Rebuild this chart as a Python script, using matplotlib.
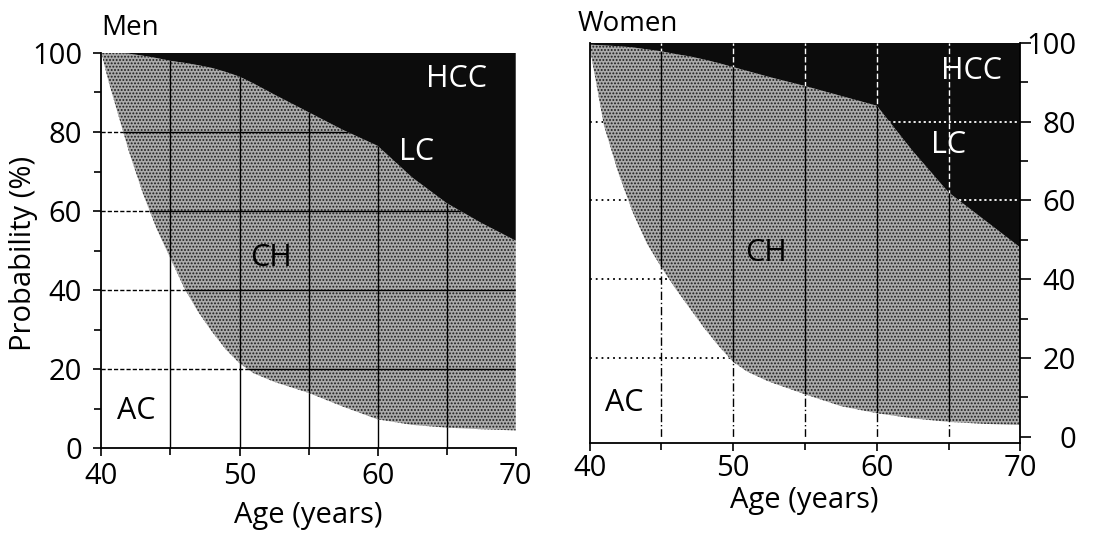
import matplotlib
matplotlib.use('Agg')
import matplotlib.pyplot as plt
from matplotlib.ticker import FixedLocator

# ---------------- data ----------------
ages = [40, 40.5, 41, 42, 43, 44, 45, 46, 47, 48, 49, 50, 51, 52.5, 55, 57.5, 60, 62.5, 65, 67.5, 70]

# upper boundary of the AC (white) area, %
men_ac = [100, 93, 87, 75, 64.5, 55.5, 48, 40.5, 34.5, 29.5, 25, 21.5, 19, 16.8, 14, 10.5, 7.3, 5.9, 5.2, 4.8, 4.5]
# upper boundary of the CH (stippled) area, %; above it LC / HCC (black)
men_ch_top = [100, 100, 100, 99.8, 99.3, 98.7, 98.0, 97.5, 96.9, 96.2, 95.2, 94.0, 92.3, 89.5, 85.0, 80.5,
              76.5, 68.5, 62.0, 57.0, 52.5]

women_ac = [99, 89, 79, 67, 57, 49, 43, 37.5, 32.5, 27.5, 23, 19, 16.5, 14, 10.8, 7.8, 6.0, 4.7, 3.8, 3.3, 3.0]
women_ch_top = [99.5, 99.4, 99.3, 99.1, 98.8, 98.3, 97.8, 97.1, 96.5, 95.7, 94.8, 93.8, 92.8, 91.3, 89.0, 86.5,
                84.0, 72.5, 62.0, 55.0, 48.0]

x_ticks = [40, 50, 60, 70]
x_minor = [45, 55, 65]
y_ticks = [0, 20, 40, 60, 80, 100]
y_minor = [10, 30, 50, 70, 90]
grid_x = [45, 50, 55, 60, 65]
grid_y = [20, 40, 60, 80]

men_labels = {'HCC': (65.7, 93.5), 'LC': (62.8, 75.0), 'CH': (52.3, 48.0), 'AC': (42.5, 9.5)}
women_labels = {'HCC': (66.6, 92.7), 'LC': (65.0, 74.0), 'CH': (52.3, 46.7), 'AC': (42.4, 8.6)}

# ---------------- style ----------------
plt.rcParams['font.family'] = ['Open Sans', 'DejaVu Sans']
plt.rcParams['hatch.linewidth'] = 0.9

fig = plt.figure(figsize=(11.02, 5.4), dpi=100)
axL = fig.add_axes([0.092, 0.170, 0.376, 0.732])
axR = fig.add_axes([0.535, 0.180, 0.391, 0.741])

GRAY_FACE = '#ababab'
GRAY_HATCH = '#1c1c1c'
DARK = '#0c0c0c'


def clipped_lines(ax, fill, vstyle, hstyle):
    path = fill.get_paths()[0]
    if vstyle is not None:
        for gx in grid_x:
            ln, = ax.plot([gx, gx], [0, 100], zorder=2, **vstyle)
            ln.set_clip_path(path, ax.transData)
    if hstyle is not None:
        for gy in grid_y:
            ln, = ax.plot([40, 70], [gy, gy], zorder=2, **hstyle)
            ln.set_clip_path(path, ax.transData)


def panel(ax, ac, ch, labels, styles):
    ax.set_xlim(40, 70)
    f_ac = ax.fill_between(ages, 0, ac, facecolor='white', lw=0, zorder=1)
    f_ch = ax.fill_between(ages, ac, ch, facecolor=GRAY_FACE, edgecolor=GRAY_HATCH,
                           hatch='.....', lw=0, zorder=1)
    f_dk = ax.fill_between(ages, ch, 100, facecolor=DARK, lw=0, zorder=1)
    for fill, key in zip([f_ac, f_ch, f_dk], ['ac', 'ch', 'dk']):
        v, h = styles[key]
        clipped_lines(ax, fill, v, h)
    for name, (x, y) in labels.items():
        col = 'white' if name in ('HCC', 'LC') else 'black'
        ax.text(x, y, name, color=col, fontsize=22, ha='center', va='center', zorder=4)
    ax.xaxis.set_major_locator(FixedLocator(x_ticks))
    ax.xaxis.set_minor_locator(FixedLocator(x_minor))
    ax.yaxis.set_major_locator(FixedLocator(y_ticks))
    ax.yaxis.set_minor_locator(FixedLocator(y_minor))
    for s in ax.spines.values():
        s.set_linewidth(1.3)
        s.set_zorder(5)
    ax.spines['top'].set_visible(False)


men_styles = {
    'ac': (dict(color='black', lw=1.0, ls='-'), dict(color='black', lw=1.0, ls=(0, (3, 1.5)))),
    'ch': (dict(color='black', lw=1.0, ls='-'), dict(color='black', lw=1.0, ls='-')),
    'dk': (None, None),
}
women_styles = {
    'ac': (dict(color='black', lw=1.0, ls=(0, (6, 2, 1, 2))), dict(color='black', lw=1.3, ls=(0, (1, 2.2)))),
    'ch': (dict(color='black', lw=1.0, ls='-'), None),
    'dk': (dict(color='white', lw=1.0, ls=(0, (4, 2))), dict(color='white', lw=1.3, ls=(0, (1.2, 1.6)))),
}

panel(axL, men_ac, men_ch_top, men_labels, men_styles)
axL.set_ylim(0, 100)
axL.spines['right'].set_visible(False)
axL.tick_params(which='both', direction='out', width=1.2, labelsize=21, colors='black')
axL.tick_params(axis='y', which='major', length=6, pad=8)
axL.tick_params(axis='x', which='major', length=6, pad=4)
axL.tick_params(which='minor', length=5)

panel(axR, women_ac, women_ch_top, women_labels, women_styles)
axR.set_ylim(-1.5, 100)
axR.yaxis.tick_right()
axR.tick_params(which='both', direction='out', width=1.2, labelsize=21, colors='black')
axR.tick_params(axis='x', which='major', length=6, pad=2)
axR.tick_params(axis='x', which='minor', length=5)
axR.tick_params(axis='y', which='major', length=8, pad=32)
axR.tick_params(axis='y', which='minor', length=6)
for lab in axR.get_yticklabels():
    lab.set_horizontalalignment('right')

# titles and axis labels
fig.text(0.092, 0.935, 'Men', fontsize=20, ha='left', va='baseline')
fig.text(0.5245, 0.943, 'Women', fontsize=20, ha='left', va='baseline')
fig.text(0.021, 0.53, 'Probability (%)', fontsize=21, rotation=90, ha='center', va='center')
fig.text(0.280, 0.046, 'Age (years)', fontsize=21, ha='center', va='center')
fig.text(0.730, 0.074, 'Age (years)', fontsize=21, ha='center', va='center')

fig.savefig('out.png', dpi=100, facecolor='white')
